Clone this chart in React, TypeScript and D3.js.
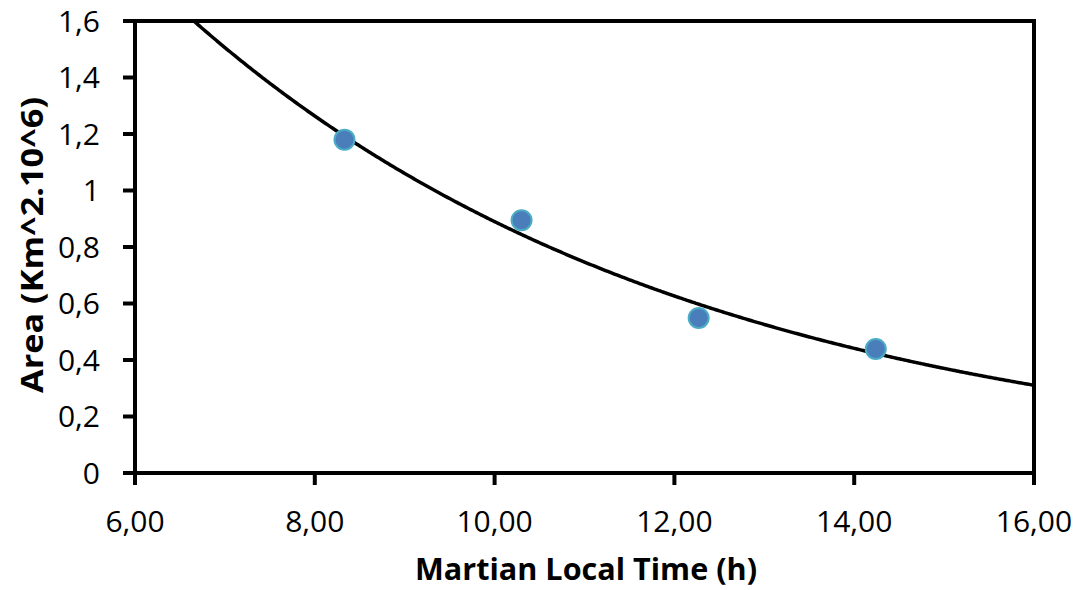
import React from "react";
import * as d3 from "d3";

const timeH = [8.33, 10.3, 12.27, 14.24];
const areaValues = [1.18, 0.895, 0.549, 0.439];
const xTicks = [6, 8, 10, 12, 14, 16];
const yTicks = [0, 0.2, 0.4, 0.6, 0.8, 1, 1.2, 1.4, 1.6];

const W = 1080, H = 590;
const left = 135, right = 1034, top = 21, bottom = 473;

export default function App() {
  const x = d3.scaleLinear().domain([6, 16]).range([left, right]);
  const y = d3.scaleLinear().domain([0, 1.6]).range([bottom, top]);

  // exponential trendline fit (least squares on ln y)
  const n = timeH.length;
  const mx = d3.mean(timeH)!;
  const ly = areaValues.map(Math.log);
  const my = d3.mean(ly)!;
  let sxy = 0, sxx = 0;
  for (let i = 0; i < n; i++) {
    sxy += (timeH[i] - mx) * (ly[i] - my);
    sxx += (timeH[i] - mx) ** 2;
  }
  const b = sxy / sxx;
  const a = Math.exp(my - b * mx);
  const xs = d3.range(6, 16.001, 0.02);
  const pts: [number, number][] = xs.map((v) => [v, a * Math.exp(b * v)]);
  const line = d3.line<[number, number]>().x((d) => x(d[0])).y((d) => y(d[1]));

  const fmtY = (v: number) => (v === 0 || v === 1 ? String(v) : v.toFixed(1).replace(".", ","));
  const fmtX = (v: number) => v.toFixed(2).replace(".", ",");
  const font = "'Open Sans', sans-serif";

  return (
    <svg width={W} height={H} style={{ position: "absolute", left: 0, top: 0 }} fontFamily={font}>
      <rect width={W} height={H} fill="#fff" />
      <defs>
        <clipPath id="plot">
          <rect x={left} y={top} width={right - left} height={bottom - top} />
        </clipPath>
      </defs>
      <path d={line(pts)!} fill="none" stroke="#000" strokeWidth={3.5} clipPath="url(#plot)" />
      {timeH.map((t, i) => (
        <circle key={i} cx={x(t)} cy={y(areaValues[i])} r={10} fill="#4a7ebb" stroke="#4bacc6" strokeWidth={2} />
      ))}
      <rect x={left} y={top} width={right - left} height={bottom - top} fill="none" stroke="#000" strokeWidth={4} />
      {yTicks.map((v) => (
        <g key={v}>
          <line x1={left - 12} x2={left} y1={y(v)} y2={y(v)} stroke="#000" strokeWidth={4} />
          <text x={100} y={y(v)} dy="0.36em" textAnchor="end" fontSize={30} fill="#000">
            {fmtY(v)}
          </text>
        </g>
      ))}
      {xTicks.map((v) => (
        <g key={v}>
          <line x1={x(v)} x2={x(v)} y1={bottom} y2={bottom + 12} stroke="#000" strokeWidth={4} />
          <text x={x(v)} y={532} textAnchor="middle" fontSize={30} fill="#000">
            {fmtX(v)}
          </text>
        </g>
      ))}
      <text x={586} y={580} textAnchor="middle" fontSize={30} fontWeight="bold" fill="#000" textLength={342} lengthAdjust="spacingAndGlyphs">
        Martian Local Time (h)
      </text>
      <text transform={`translate(43, 245) rotate(-90)`} textAnchor="middle" fontSize={30} fontWeight="bold" fill="#000" textLength={296} lengthAdjust="spacingAndGlyphs">
        Area (Km^2.10^6)
      </text>
    </svg>
  );
}
